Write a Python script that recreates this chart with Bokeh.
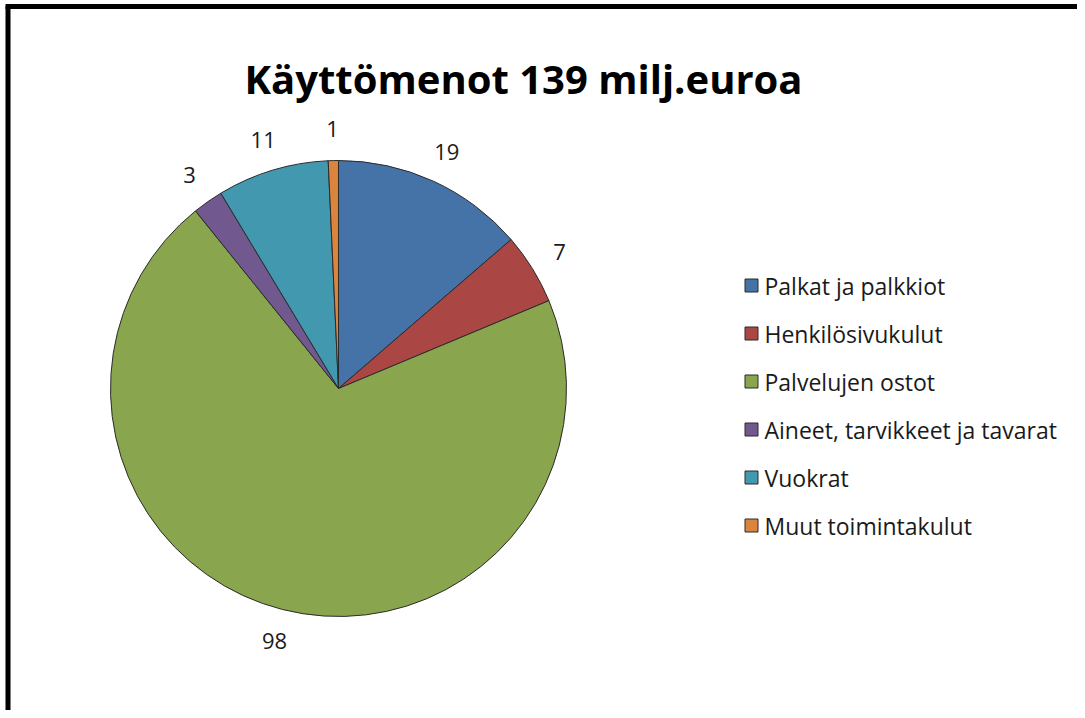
import numpy as np
from bokeh.plotting import figure
from bokeh.models import Range1d, ColumnDataSource
from bokeh.core.properties import value
from bokeh.embed import file_html
from bokeh.resources import INLINE

title = "Käyttömenot 139 milj.euroa"
categories = ["Palkat ja palkkiot", "Henkilösivukulut", "Palvelujen ostot",
              "Aineet, tarvikkeet ja tavarat", "Vuokrat", "Muut toimintakulut"]
values = [19, 7, 98, 3, 11, 1]
colors = ["#4572A7", "#AA4643", "#89A54E", "#71588F", "#4198AF", "#DB843D"]

W, H = 1077, 710
p = figure(width=W, height=H, x_range=Range1d(0, W), y_range=Range1d(0, H),
           output_backend="svg", toolbar_location=None,
           x_axis_type=None, y_axis_type=None, min_border=0)
p.grid.visible = False
p.outline_line_color = None

FONT = value("Open Sans")

vals = np.array(values, dtype=float)
total = vals.sum()
cum = np.concatenate([[0], np.cumsum(vals)])
start = np.pi / 2 - 2 * np.pi * cum[:-1] / total
end = np.pi / 2 - 2 * np.pi * cum[1:] / total
mid = (start + end) / 2

cx, cy, r = 338, 322, 228
src = ColumnDataSource(dict(start=start, end=end, color=colors))
p.wedge(x=cx, y=cy, radius=r, start_angle="start", end_angle="end",
        direction="clock", fill_color="color", line_color="#2b2b2b",
        line_width=1, source=src)

lr = 260
lab = ColumnDataSource(dict(x=cx + lr * np.cos(mid), y=cy + lr * np.sin(mid),
                            t=[str(v) for v in values]))
p.text(x="x", y="y", text="t", source=lab, text_font=FONT, text_font_size="22px",
       text_align="center", text_baseline="middle", text_color="#1a1a1a")

# title
p.text(x=[523], y=[H - 78], text=[title], text_font=FONT, text_font_size="40px",
       text_font_style="bold", text_align="center", text_baseline="alphabetic",
       text_color="#000000")

# legend
n = len(categories)
ly = H - np.array([285 + 48 * i for i in range(n)])
leg = ColumnDataSource(dict(x=[751] * n, y=ly, color=colors, t=categories,
                            tx=[764] * n))
p.scatter(x="x", y="y", marker="square", size=13, fill_color="color",
          line_color="#2b2b2b", line_width=1, source=leg)
p.text(x="tx", y="y", text="t", source=leg, text_font=FONT, text_font_size="23px",
       text_align="left", text_baseline="middle", text_color="#1a1a1a")

# border (top and left)
p.segment(x0=[7.5, 5], y0=[0, H - 6], x1=[7.5, W], y1=[H - 6, H - 6],
          line_color="black", line_width=5)

open("out.html", "w").write(file_html(p, INLINE))
